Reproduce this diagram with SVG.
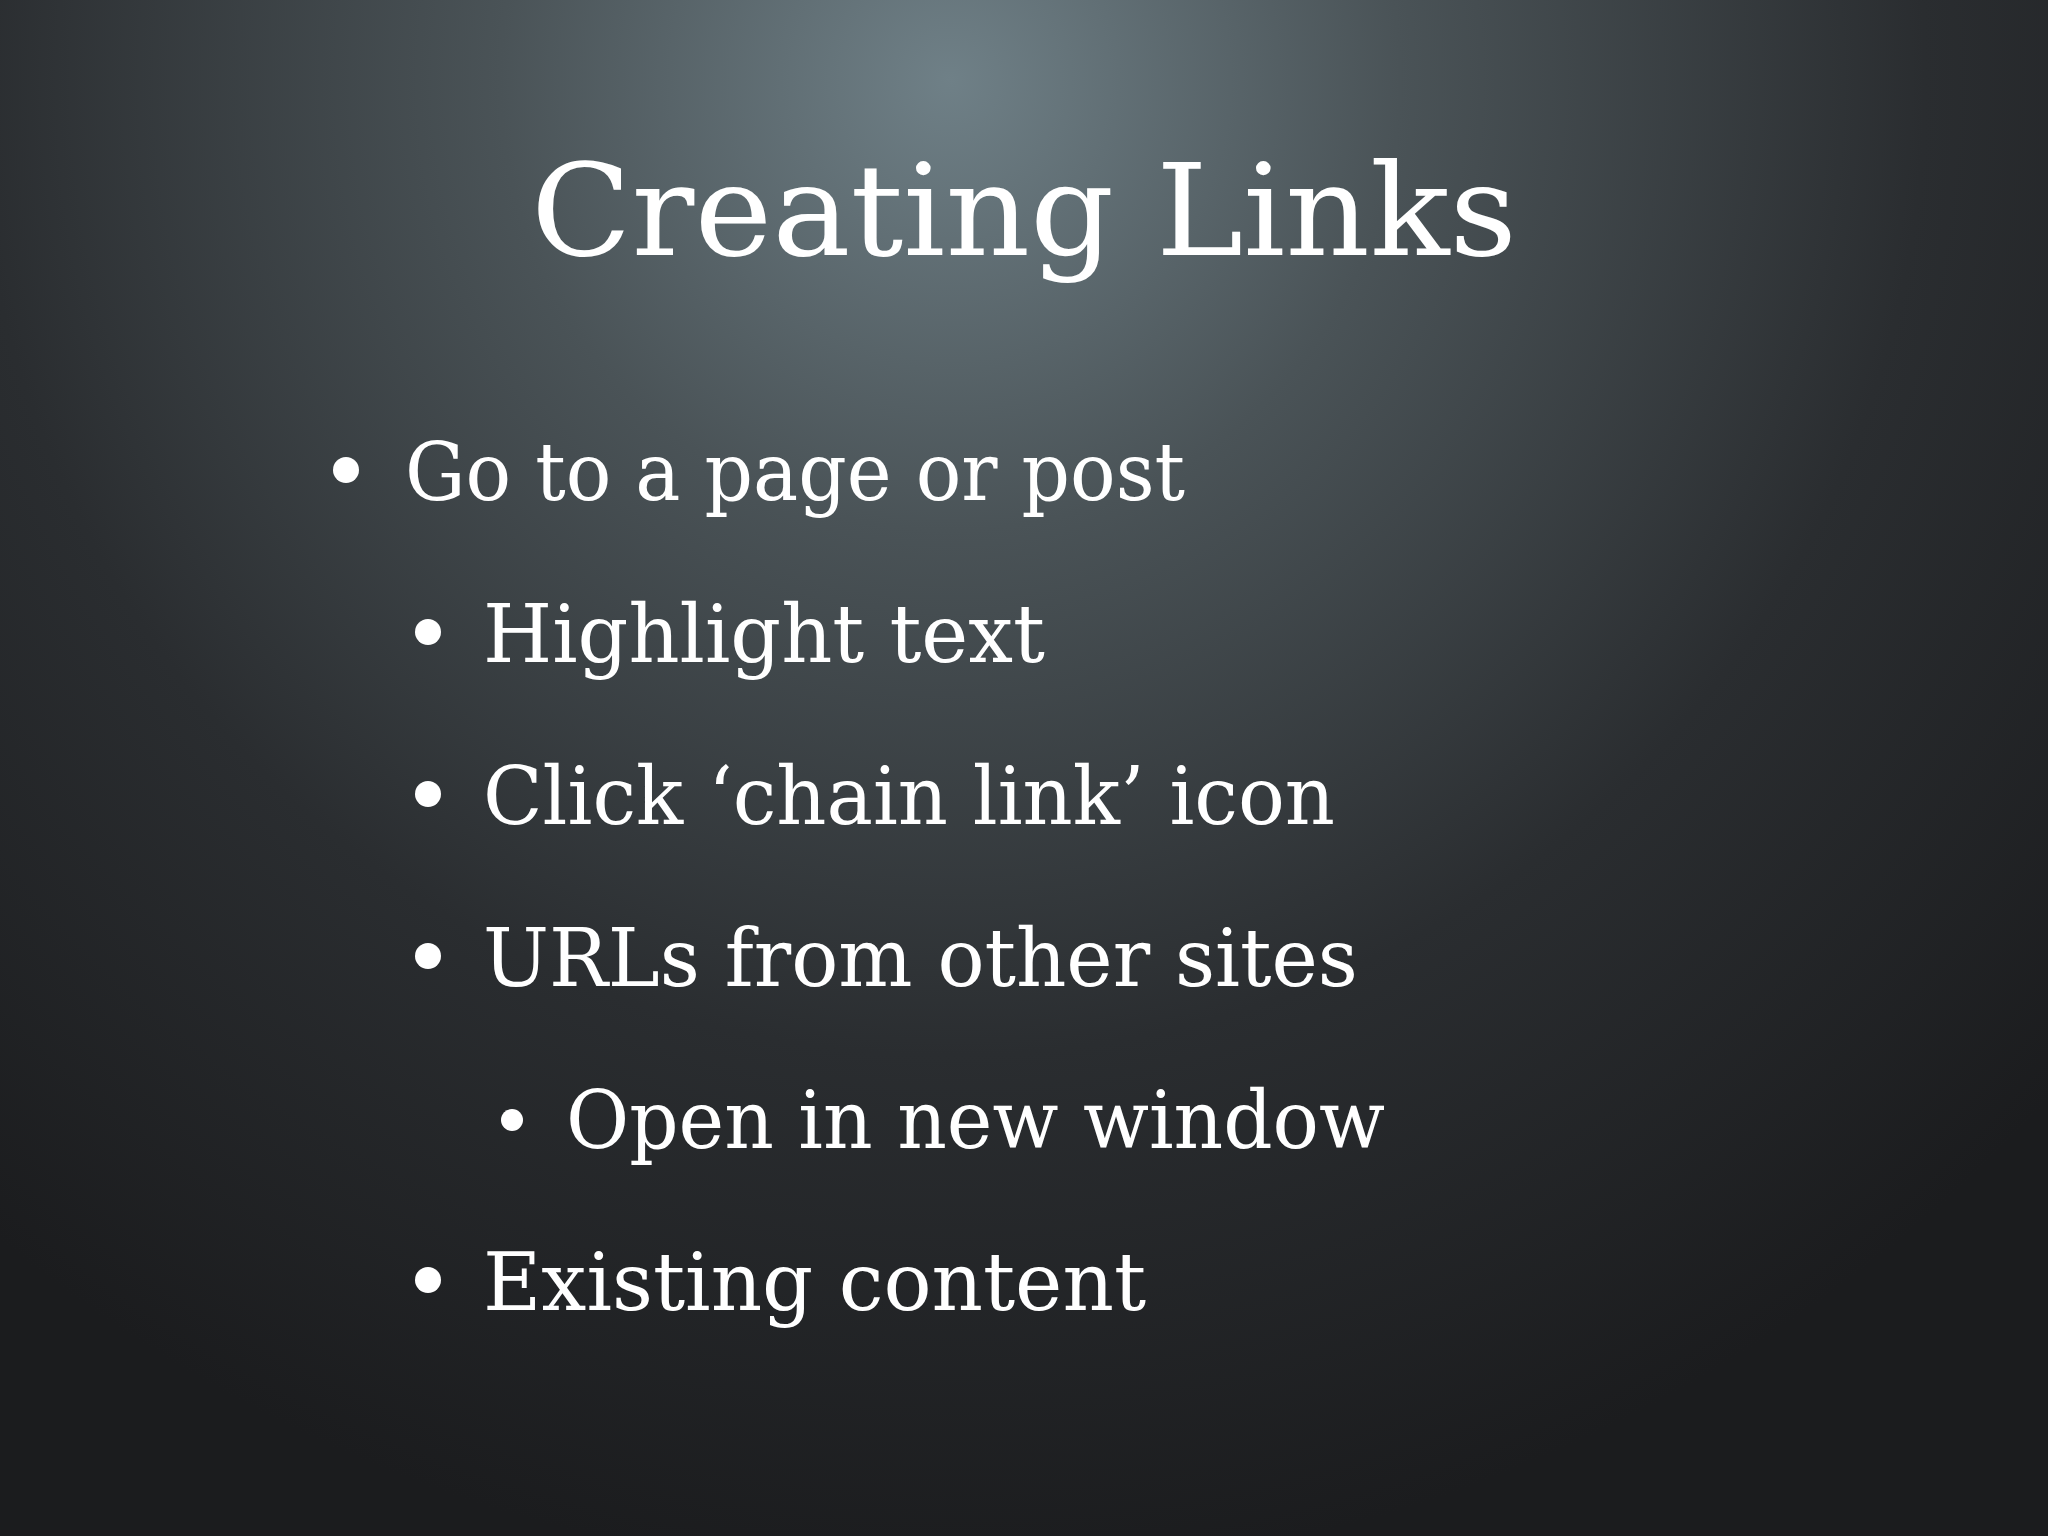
<svg xmlns="http://www.w3.org/2000/svg" width="2048" height="1536" viewBox="0 0 2048 1536">
<defs>
<radialGradient id="bg" cx="950" cy="80" r="1500" gradientUnits="userSpaceOnUse">
<stop offset="0" stop-color="#6f8087"/>
<stop offset="0.3" stop-color="#4a5357"/>
<stop offset="0.65" stop-color="#2a2d30"/>
<stop offset="1" stop-color="#1b1c1e"/>
</radialGradient>
<style>
.t{font-family:"DejaVu Serif","Liberation Serif",serif;fill:#fff}
.b{font-size:80px}
</style>
</defs>
<rect width="2048" height="1536" fill="url(#bg)"/>
<text class="t" x="1024" y="255" font-size="128" text-anchor="middle" textLength="986" lengthAdjust="spacingAndGlyphs">Creating Links</text>
<g fill="#fff">
<circle cx="346" cy="470" r="13"/>
<circle cx="428" cy="632" r="13"/>
<circle cx="428" cy="794" r="13"/>
<circle cx="428" cy="956" r="13"/>
<circle cx="512" cy="1120" r="11"/>
<circle cx="428" cy="1280" r="13"/>
</g>
<text class="t b" x="405" y="500" textLength="780" lengthAdjust="spacingAndGlyphs">Go to a page or post</text>
<text class="t b" x="483" y="662" textLength="562" lengthAdjust="spacingAndGlyphs">Highlight text</text>
<text class="t b" x="483" y="824" textLength="852" lengthAdjust="spacingAndGlyphs">Click ‘chain link’ icon</text>
<text class="t b" x="483" y="986" textLength="875" lengthAdjust="spacingAndGlyphs">URLs from other sites</text>
<text class="t b" x="566" y="1148" textLength="819" lengthAdjust="spacingAndGlyphs">Open in new window</text>
<text class="t b" x="483" y="1310" textLength="663" lengthAdjust="spacingAndGlyphs">Existing content</text>
</svg>
